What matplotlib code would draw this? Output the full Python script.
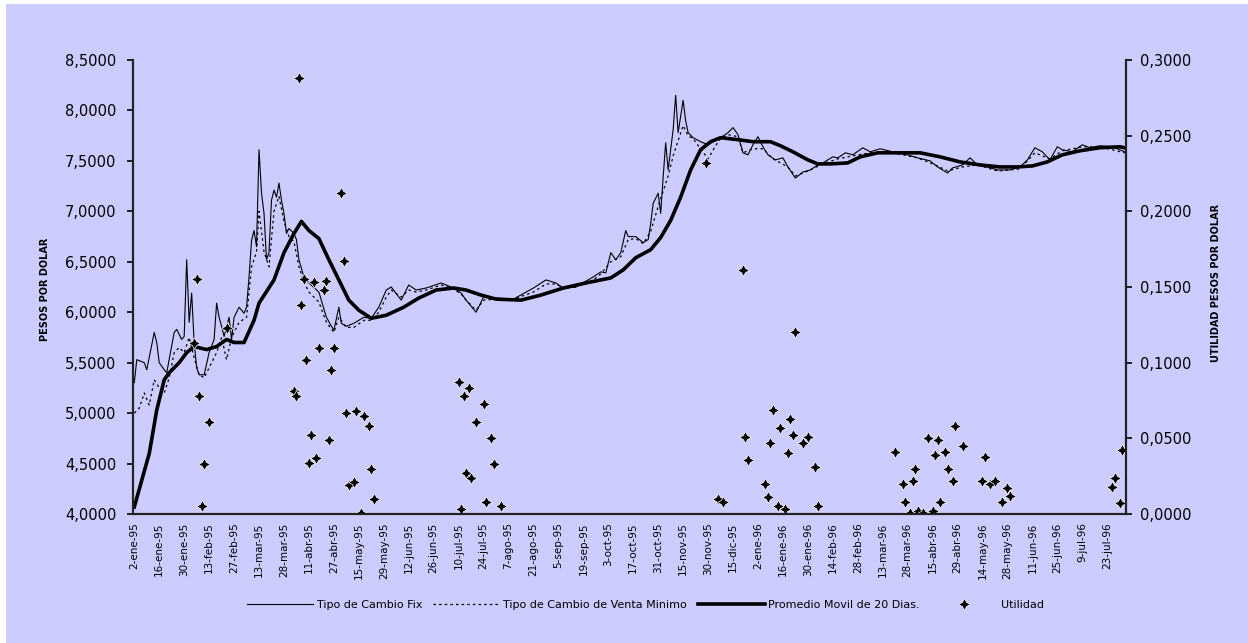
import matplotlib
matplotlib.use("Agg")
import matplotlib.pyplot as plt
from matplotlib.ticker import FuncFormatter, MultipleLocator
from matplotlib.patches import Rectangle

# etiquetas del eje x (cada 10 dias habiles)
fechas = ["2-ene-95", "16-ene-95", "30-ene-95", "13-feb-95", "27-feb-95", "13-mar-95",
          "28-mar-95", "11-abr-95", "27-abr-95", "15-may-95", "29-may-95", "12-jun-95",
          "26-jun-95", "10-jul-95", "24-jul-95", "7-ago-95", "21-ago-95", "5-sep-95",
          "19-sep-95", "3-oct-95", "17-oct-95", "31-oct-95", "15-nov-95", "30-nov-95",
          "15-dic-95", "2-ene-96", "16-ene-96", "30-ene-96", "14-feb-96", "28-feb-96",
          "13-mar-96", "28-mar-96", "15-abr-96", "29-abr-96", "14-may-96", "28-may-96",
          "11-jun-96", "25-jun-96", "9-jul-96", "23-jul-96"]
n_dias = 398

# Tipo de Cambio Fix
fix_dia = [0, 1, 4, 5, 8, 9, 10, 12, 13, 16, 17, 19, 20, 21, 22, 23, 24, 25, 26, 28,
           30, 32, 33, 34, 35, 36, 38, 39, 40, 42, 44, 45, 46, 47, 48, 49, 50, 51, 52,
           53, 54, 55, 56, 57, 58, 59, 60, 61, 62, 64, 65, 66, 68, 70, 74, 77, 80, 82,
           83, 85, 88, 92, 95, 98, 101, 103, 107, 110, 113, 117, 123, 128, 131, 133,
           137, 140, 145, 152, 160, 165, 169, 172, 177, 184, 187, 189, 191, 193, 195,
           197, 198, 201, 204, 206, 207, 208, 210, 211, 212, 213, 214, 215, 216, 217,
           218, 219, 220, 221, 222, 224, 227, 230, 232, 235, 238, 240, 242, 244, 246,
           248, 250, 252, 254, 257, 260, 262, 265, 268, 271, 274, 276, 280, 282, 285,
           288, 292, 295, 299, 304, 310, 314, 319, 322, 326, 328, 332, 335, 338, 342,
           346, 351, 355, 358, 361, 364, 367, 370, 372, 376, 380, 383, 387, 392, 395, 397]
fix_val = [5.30, 5.53, 5.50, 5.43, 5.80, 5.70, 5.50, 5.43, 5.40, 5.80, 5.83, 5.73, 5.76,
           6.52, 5.90, 6.19, 5.70, 5.45, 5.38, 5.38, 5.60, 5.73, 6.09, 5.95, 5.86, 5.76,
           5.95, 5.73, 5.95, 6.05, 5.99, 6.05, 6.35, 6.71, 6.81, 6.65, 7.61, 7.18, 6.98,
           6.52, 6.59, 7.11, 7.21, 7.14, 7.28, 7.11, 6.98, 6.78, 6.83, 6.78, 6.72, 6.52,
           6.35, 6.29, 6.20, 5.95, 5.82, 6.05, 5.89, 5.86, 5.89, 5.95, 5.94, 6.05, 6.22,
           6.25, 6.12, 6.27, 6.22, 6.24, 6.29, 6.24, 6.19, 6.12, 6.00, 6.15, 6.14, 6.13,
           6.24, 6.32, 6.29, 6.24, 6.25, 6.35, 6.40, 6.39, 6.59, 6.52, 6.59, 6.81, 6.75,
           6.75, 6.69, 6.72, 6.88, 7.08, 7.18, 6.98, 7.34, 7.68, 7.41, 7.61, 7.81, 8.15,
           7.78, 7.94, 8.10, 7.90, 7.78, 7.73, 7.69, 7.66, 7.69, 7.73, 7.78, 7.83, 7.76,
           7.58, 7.56, 7.66, 7.74, 7.64, 7.56, 7.51, 7.53, 7.44, 7.33, 7.39, 7.41, 7.46,
           7.48, 7.54, 7.53, 7.58, 7.56, 7.63, 7.59, 7.62, 7.59, 7.56, 7.53, 7.50, 7.44,
           7.38, 7.43, 7.46, 7.53, 7.46, 7.44, 7.41, 7.41, 7.44, 7.51, 7.63, 7.59, 7.51,
           7.64, 7.61, 7.59, 7.66, 7.63, 7.65, 7.64, 7.61, 7.59]

# Tipo de Cambio de Venta Minimo
venta_dia = [0, 2, 4, 6, 8, 10, 12, 14, 16, 18, 20, 22, 24, 26, 28, 30, 33, 35, 37, 39,
             42, 45, 47, 49, 50, 52, 54, 56, 58, 60, 62, 64, 66, 68, 70, 74, 77, 80, 82,
             85, 88, 92, 95, 98, 101, 103, 107, 110, 113, 117, 123, 128, 131, 133, 137,
             140, 145, 152, 160, 165, 169, 172, 177, 184, 187, 191, 195, 198, 201, 204,
             207, 210, 212, 214, 216, 218, 220, 222, 224, 227, 230, 233, 235, 238, 242,
             244, 248, 252, 256, 262, 265, 270, 276, 282, 288, 295, 304, 314, 322, 326,
             332, 338, 346, 355, 361, 367, 372, 380, 387, 397]
venta_val = [5.00, 5.05, 5.20, 5.08, 5.33, 5.25, 5.20, 5.35, 5.60, 5.65, 5.60, 5.75, 5.55,
             5.38, 5.35, 5.45, 5.60, 5.75, 5.53, 5.75, 5.90, 5.95, 6.45, 6.60, 7.00, 6.60,
             6.45, 7.00, 7.15, 6.90, 6.75, 6.70, 6.45, 6.30, 6.20, 6.10, 5.90, 5.80, 5.95,
             5.85, 5.85, 5.92, 5.92, 6.00, 6.15, 6.22, 6.15, 6.22, 6.20, 6.22, 6.27, 6.23,
             6.18, 6.12, 6.02, 6.12, 6.13, 6.13, 6.20, 6.28, 6.28, 6.24, 6.25, 6.32, 6.38,
             6.50, 6.55, 6.72, 6.73, 6.68, 6.80, 7.05, 7.20, 7.35, 7.55, 7.70, 7.85, 7.75,
             7.72, 7.62, 7.52, 7.65, 7.72, 7.76, 7.74, 7.58, 7.62, 7.62, 7.52, 7.44, 7.35,
             7.40, 7.47, 7.52, 7.55, 7.58, 7.58, 7.53, 7.45, 7.40, 7.44, 7.46, 7.40, 7.42,
             7.58, 7.52, 7.60, 7.64, 7.64, 7.58]

# Promedio Movil de 20 Dias
prom_dia = [0, 6, 9, 12, 14, 18, 21, 24, 29, 33, 37, 40, 44, 48, 50, 56, 60, 64, 67, 70,
            74, 78, 82, 86, 90, 95, 101, 108, 114, 121, 128, 133, 139, 145, 155, 163, 172,
            181, 191, 196, 201, 207, 211, 215, 219, 223, 227, 231, 235, 242, 248, 255, 259,
            264, 270, 274, 279, 286, 291, 298, 306, 315, 323, 331, 339, 347, 354, 360, 366,
            372, 379, 387, 395, 397]
prom_val = [4.07, 4.60, 5.03, 5.33, 5.40, 5.50, 5.60, 5.66, 5.63, 5.66, 5.73, 5.70, 5.70,
            5.92, 6.09, 6.32, 6.59, 6.78, 6.90, 6.81, 6.73, 6.52, 6.32, 6.12, 6.02, 5.94,
            5.97, 6.05, 6.14, 6.22, 6.24, 6.22, 6.17, 6.13, 6.12, 6.17, 6.24, 6.29, 6.34,
            6.42, 6.54, 6.62, 6.74, 6.91, 7.14, 7.41, 7.61, 7.69, 7.73, 7.71, 7.69, 7.69,
            7.65, 7.59, 7.51, 7.47, 7.47, 7.48, 7.54, 7.58, 7.58, 7.58, 7.54, 7.49, 7.46,
            7.44, 7.44, 7.45, 7.49, 7.56, 7.60, 7.63, 7.64, 7.63]

# Utilidad (eje derecho)
util_dia = [24, 25, 26, 27, 28, 30, 37, 64, 65, 66, 67, 68, 69, 70, 71, 72, 73, 74, 76,
            77, 78, 79, 80, 83, 84, 85, 86, 88, 89, 91, 92, 94, 95, 96, 130, 131, 132,
            133, 134, 135, 137, 140, 141, 143, 144, 147, 229, 234, 236, 244, 245, 246,
            253, 254, 255, 256, 258, 259, 261, 262, 263, 264, 265, 268, 270, 273, 274,
            305, 308, 309, 311, 312, 313, 314, 316, 318, 320, 321, 322, 323, 325, 326,
            328, 329, 332, 340, 341, 343, 345, 348, 350, 351, 392, 393, 395, 396]
util_val = [0.113, 0.155, 0.078, 0.005, 0.033, 0.061, 0.123, 0.081, 0.078, 0.288, 0.138,
            0.155, 0.102, 0.034, 0.052, 0.153, 0.037, 0.110, 0.148, 0.154, 0.049, 0.095,
            0.110, 0.212, 0.167, 0.067, 0.019, 0.021, 0.068, 0.001, 0.065, 0.058, 0.030,
            0.010, 0.087, 0.003, 0.078, 0.027, 0.083, 0.024, 0.061, 0.073, 0.008, 0.050,
            0.033, 0.005, 0.232, 0.010, 0.008, 0.161, 0.051, 0.036, 0.020, 0.011, 0.047,
            0.069, 0.005, 0.057, 0.003, 0.040, 0.063, 0.052, 0.120, 0.047, 0.051, 0.031,
            0.005, 0.041, 0.020, 0.008, 0.001, 0.022, 0.030, 0.002, 0.001, 0.050, 0.002,
            0.039, 0.049, 0.008, 0.041, 0.030, 0.022, 0.058, 0.045, 0.022, 0.038, 0.020,
            0.022, 0.008, 0.017, 0.012, 0.018, 0.024, 0.007, 0.042]

fondo = "#ccccff"
fig = plt.figure(figsize=(12.48, 6.43), dpi=100, facecolor="white")
fig.patches.append(Rectangle((0.005, 0), 0.995, 0.994, transform=fig.transFigure,
                             facecolor=fondo, edgecolor="none", zorder=-10))

ax = fig.add_axes([0.1066, 0.2006, 0.7956, 0.7061])
ax.set_facecolor(fondo)
ax2 = ax.twinx()

l1, = ax.plot(fix_dia, fix_val, color="black", lw=0.8, label="Tipo de Cambio Fix")
l2, = ax.plot(venta_dia, venta_val, color="black", lw=0.9, ls=(0, (2, 2.5)),
              label="Tipo de Cambio de Venta Minimo")
l3, = ax.plot(prom_dia, prom_val, color="black", lw=2.6, label="Promedio Movil de 20 Dias.")
l4, = ax2.plot(util_dia, util_val, ls="none", marker=(4, 1, 0), ms=8.5, color="black",
               mec="white", mew=0.5, label="Utilidad")

coma = FuncFormatter(lambda v, p: f"{v:.4f}".replace(".", ","))
ax.set_xlim(-0.5, n_dias - 0.5)
ax.set_ylim(4, 8.5)
ax.yaxis.set_major_locator(MultipleLocator(0.5))
ax.yaxis.set_major_formatter(coma)
ax2.set_ylim(0, 0.3)
ax2.yaxis.set_major_locator(MultipleLocator(0.05))
ax2.yaxis.set_major_formatter(coma)

ax.set_xticks(range(0, 400, 10))
ax.set_xticklabels(fechas, rotation=90, fontsize=7.5)
ax.tick_params(axis="x", length=0, pad=6)
ax.tick_params(axis="y", labelsize=10.5, length=4, width=1.2, pad=8)
ax2.tick_params(axis="y", labelsize=10.5, length=4, width=1.2, pad=6)

for a in (ax, ax2):
    a.spines["top"].set_visible(False)
    for s in ("left", "right", "bottom"):
        a.spines[s].set_linewidth(1.5)
        a.spines[s].set_color("#222222")

fig.text(0.036, 0.55, "PESOS POR DOLAR", rotation=90, ha="center", va="center",
         fontsize=7, fontweight="bold")
fig.text(0.974, 0.56, "UTILIDAD PESOS POR DOLAR", rotation=90, ha="center", va="center",
         fontsize=7, fontweight="bold")

fig.legend(handles=[l1, l2, l3, l4], loc="center", bbox_to_anchor=(0.517, 0.059),
           ncol=4, frameon=False, fontsize=8, handlelength=6, columnspacing=1.0,
           handletextpad=0.3)

fig.savefig("out.png", dpi=100, facecolor=fig.get_facecolor())
